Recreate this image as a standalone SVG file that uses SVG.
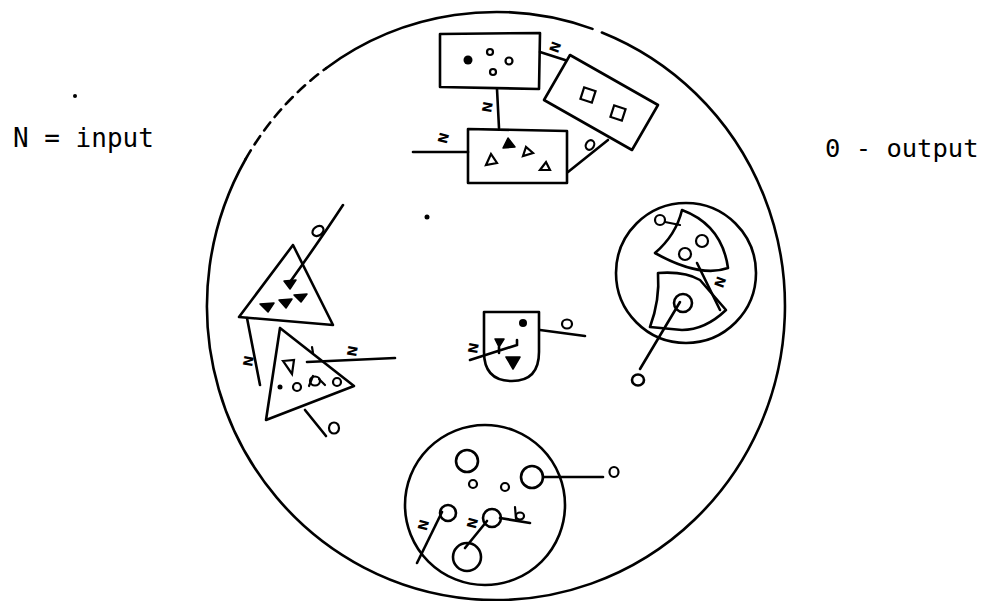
<svg xmlns="http://www.w3.org/2000/svg" width="985" height="601" viewBox="0 0 985 601">
<style>
.s{fill:none;stroke:#000;stroke-width:2.6;stroke-linecap:round;stroke-linejoin:round}
.t{fill:none;stroke:#000;stroke-width:2.2;stroke-linecap:round}
.f{fill:#000;stroke:#000;stroke-width:1.5;stroke-linejoin:round}
.lbl{font-family:"DejaVu Sans Mono","Liberation Mono",monospace;fill:#000}
.n{font-family:"DejaVu Sans","Liberation Sans",sans-serif;font-weight:bold;font-size:13px;fill:#000}
</style>
<rect width="985" height="601" fill="#fff"/>
<text class="lbl" x="13" y="147" font-size="26">N = input</text>
<text class="lbl" x="825" y="157" font-size="25.5">0 - output</text>
<circle cx="75" cy="96" r="2"/>
<circle cx="427" cy="217" r="2.5"/>
<g id="cell">
<path class="s" d="M326.1,68.2 A289,294 0 0,1 592.5,28.9 M601.9,32.5 A289,294 0 1,1 245.7,159"/>
<path class="s" stroke-dasharray="10 7" d="M245.7,159 A289,294 0 0,1 326.1,68.2"/>
</g>
<g id="rect-dots">
<polygon class="s" points="440,34 540,33 539,89 440,87"/>
<circle cx="468" cy="60" r="4.5"/>
<circle class="t" cx="490" cy="52" r="3"/>
<circle class="t" cx="509" cy="61" r="3.5"/>
<circle class="t" cx="493" cy="72" r="3"/>
</g>
<g id="rect-squares">
<polygon class="s" points="570,55 658,105 632,150 544,100"/>
<rect class="t" x="582" y="89" width="12" height="12" transform="rotate(18 588 95)"/>
<rect class="t" x="612" y="107" width="12" height="12" transform="rotate(18 618 113)"/>
</g>
<g id="rect-triangles">
<polygon class="s" points="468,129 567,131 567,183 468,183"/>
<polygon class="f" points="503,148 508,138 515,147"/>
<polygon class="t" points="486,165 491,154 497,163"/>
<polygon class="t" points="523,156 526,147 533,153"/>
<polygon class="t" points="540,170 546,162 550,170"/>
</g>
<g id="triangle-upper">
<polygon class="s" points="293,245 239,317 333,325"/>
<polygon class="f" points="260,304 274,303 268,312"/>
<polygon class="f" points="279,300 292,299 286,308"/>
<polygon class="f" points="294,295 307,294 301,302"/>
<polygon class="f" points="284,281 296,280 290,289"/>
</g>
<g id="triangle-lower">
<polygon class="s" points="280,328 266,420 354,386"/>
<polygon class="t" points="283,361 294,360 292,374"/>
<circle cx="280" cy="387" r="2.5"/>
<circle class="t" cx="297" cy="387" r="4"/>
<ellipse class="t" cx="315" cy="381" rx="5" ry="4.5"/>
<path class="t" d="M309,386 L313,376 M319,379 L325,385"/>
<circle class="t" cx="337" cy="382" r="4"/>
</g>
<g id="shield">
<path class="s" d="M484,312 L539,312 L539,352 Q539,381 512,381 Q484,381 484,352 Z"/>
<circle cx="523" cy="323" r="4"/>
<polygon class="f" points="506,357 520,357 513,369"/>
<polygon class="f" points="495,339 504,339 499,347"/>
</g>
<g id="fan-circle">
<circle class="s" cx="686" cy="273" r="70"/>
<path class="s" d="M655,253 Q676,235 682,210 Q722,225 728,268 Q700,278 655,253 Z"/>
<path class="s" d="M658,273 Q685,271 700,280 L726,310 Q705,330 682,330 L650,327 Q660,300 658,273 Z"/>
<circle class="t" cx="702" cy="241" r="6"/>
<circle class="t" cx="685" cy="254" r="6"/>
<circle class="s" cx="683" cy="303" r="9"/>
</g>
<g id="ball-circle">
<circle class="s" cx="485" cy="505" r="80"/>
<circle class="s" cx="467" cy="461" r="11"/>
<circle class="t" cx="473" cy="484" r="4"/>
<circle class="t" cx="505" cy="487" r="4"/>
<circle class="s" cx="532" cy="477" r="11"/>
<circle class="s" cx="448" cy="513" r="8"/>
<circle class="s" cx="492" cy="518" r="9"/>
<circle class="s" cx="467" cy="557" r="14"/>
</g>
<g id="connectors">
<path class="s" d="M497,89 L499,128"/>
<text class="n" transform="translate(487,107) rotate(-80)" text-anchor="middle" dy="5">N</text>
<path class="s" d="M540,52 L565,60"/>
<text class="n" transform="translate(555,47) rotate(-70)" text-anchor="middle" dy="5">N</text>
<path class="s" d="M413,152 L468,152"/>
<text class="n" transform="translate(443,138) rotate(-75)" text-anchor="middle" dy="5">N</text>
<path class="s" d="M568,172 L608,140"/>
<ellipse class="t" cx="590" cy="145" rx="4" ry="5" transform="rotate(30 590 145)"/>
<path class="s" d="M290,282 Q320,240 343,205"/>
<ellipse class="t" cx="318" cy="231" rx="6" ry="4.5" transform="rotate(-35 318 231)"/>
<path class="s" d="M247,318 L260,385"/>
<text class="n" transform="translate(248,361) rotate(-80)" text-anchor="middle" dy="5">N</text>
<path class="s" d="M307,362 L395,358"/>
<text class="n" transform="translate(352,351) rotate(-80)" text-anchor="middle" dy="5">N</text>
<path class="t" d="M312,347 L313,353"/>
<path class="s" d="M305,410 L326,436"/>
<ellipse class="t" cx="334" cy="428" rx="5" ry="5.5"/>
<path class="s" d="M470,360 L517,345 M499,347 L499,353 M517,340 L517,345"/>
<text class="n" transform="translate(473,348) rotate(-80)" text-anchor="middle" dy="5">N</text>
<path class="s" d="M540,330 L585,336"/>
<ellipse class="t" cx="567" cy="324" rx="5" ry="4.5"/>
<path class="s" d="M680,302 L640,369"/>
<ellipse class="s" cx="638" cy="380" rx="6" ry="5.5"/>
<path class="s" d="M697,263 L720,310"/>
<text class="n" transform="translate(720,282) rotate(-70)" text-anchor="middle" dy="5">N</text>
<ellipse class="t" cx="660" cy="220" rx="5" ry="5"/>
<path class="t" d="M665,222 L680,225"/>
<path class="s" d="M543,477 L603,477"/>
<ellipse class="t" cx="614" cy="472" rx="4.5" ry="5"/>
<path class="s" d="M442,512 L417,563"/>
<text class="n" transform="translate(423,525) rotate(-75)" text-anchor="middle" dy="5">N</text>
<path class="s" d="M487,521 L465,548"/>
<text class="n" transform="translate(472,523) rotate(-75)" text-anchor="middle" dy="5">N</text>
<path class="s" d="M500,518 L530,523"/>
<ellipse class="t" cx="520" cy="516" rx="4" ry="3.5"/>
<path class="t" d="M515,507 L516,519"/>
</g>
</svg>
